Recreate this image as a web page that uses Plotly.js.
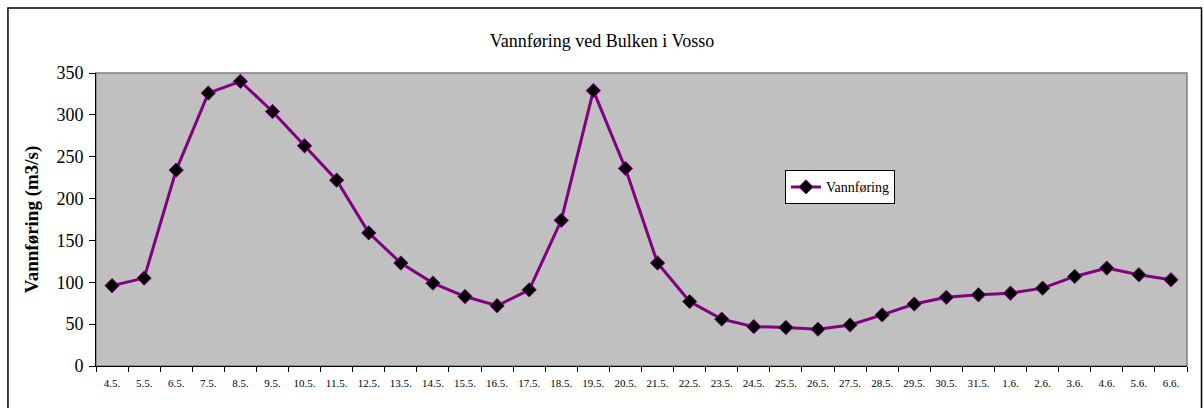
<!DOCTYPE html>
<html>
<head>
<meta charset="utf-8">
<script src="https://cdn.plot.ly/plotly-3.0.1.min.js"></script>
<style>
html,body{margin:0;padding:0;background:#fff;}
#chart{width:1204px;height:408px;}
</style>
</head>
<body>
<div id="chart"></div>
<script>
const dates = ["4.5.","5.5.","6.5.","7.5.","8.5.","9.5.","10.5.","11.5.","12.5.","13.5.","14.5.","15.5.","16.5.","17.5.","18.5.","19.5.","20.5.","21.5.","22.5.","23.5.","24.5.","25.5.","26.5.","27.5.","28.5.","29.5.","30.5.","31.5.","1.6.","2.6.","3.6.","4.6.","5.6.","6.6."];
const vannforing = [96,105,234,326,340,304,263,222,159,123,99,83,72,91,174,329,236,123,77,56,47,46,44,49,61,74,82,85,87,93,107,117,109,103];
const seriesName = "Vannføring";
const chartTitle = "Vannføring ved Bulken i Vosso";
const yTitle = "Vannføring (m3/s)";
const yTicks = [0,50,100,150,200,250,300,350];

const serif = "Liberation Serif, Times New Roman, serif";

const trace = {
  x: dates,
  y: vannforing,
  type: "scatter",
  mode: "lines+markers",
  name: seriesName,
  line: {color: "#800080", width: 3},
  marker: {symbol: "diamond", size: 11, color: "#000000", line: {color: "#800080", width: 1}},
  showlegend: true
};

const layout = {
  width: 1204,
  height: 408,
  margin: {l: 96, r: 17, t: 73, b: 42},
  paper_bgcolor: "#ffffff",
  plot_bgcolor: "#c0c0c0",
  font: {family: serif, color: "#000"},
  title: {text: chartTitle, font: {family: serif, size: 18, color: "#000"}, x: 0.5, xanchor: "center", y: 1 - 41/408, yanchor: "middle"},
  showlegend: true,
  legend: {
    x: 0.6315, y: 0.668, xanchor: "left", yanchor: "top",
    bgcolor: "#ffffff", bordercolor: "#000000", borderwidth: 1,
    font: {family: serif, size: 14, color: "#000"},
    itemwidth: 30
  },
  xaxis: {
    type: "category",
    range: [-0.5, dates.length - 0.5],
    autorange: false,
    tickson: "boundaries",
    ticks: "outside", ticklen: 5, tickcolor: "#000", tickwidth: 1,
    ticklabelstandoff: 7,
    showline: true, linecolor: "#000", linewidth: 1,
    showgrid: false, zeroline: false,
    tickfont: {family: serif, size: 11, color: "#000"},
    tickangle: 0,
    fixedrange: true
  },
  yaxis: {
    range: [0, 350],
    autorange: false,
    tickvals: yTicks,
    ticks: "outside", ticklen: 6, tickcolor: "#000", tickwidth: 1,
    ticklabelstandoff: 2,
    showline: true, linecolor: "#000", linewidth: 1,
    showgrid: false, zeroline: false,
    tickfont: {family: serif, size: 18, color: "#000"},
    title: {text: yTitle, font: {family: serif, size: 19, color: "#000", weight: "bold"}, standoff: 12},
    fixedrange: true
  },
  shapes: [
    {type: "rect", xref: "paper", yref: "paper", x0: 0, x1: 1, y0: 0, y1: 1, line: {color: "#808080", width: 1.5}, layer: "below"},
    {type: "rect", xref: "paper", yref: "paper", x0: -0.0807, x1: 1.0133, y0: -0.2, y1: 1.2218, line: {color: "#000000", width: 1.5}, layer: "above"}
  ]
};

Plotly.newPlot("chart", [trace], layout, {displayModeBar: false, staticPlot: true});
</script>
</body>
</html>
